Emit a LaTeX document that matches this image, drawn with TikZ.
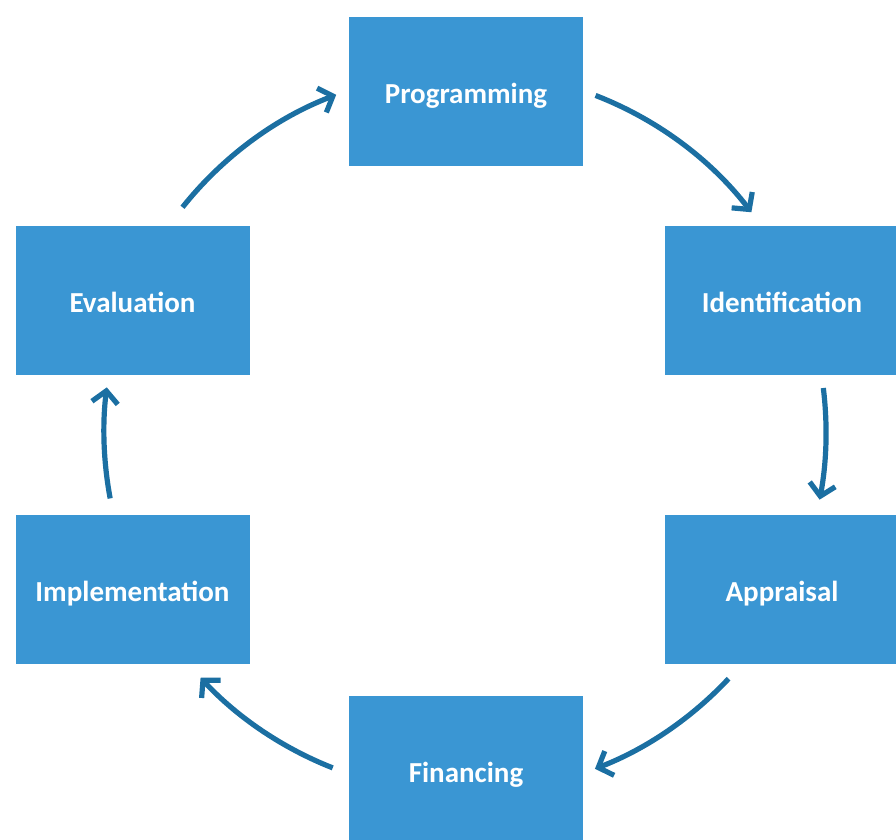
\documentclass[tikz,border=0pt]{standalone}
\usepackage{fontspec}
\setmainfont{Carlito}
\usetikzlibrary{arrows.meta}
\definecolor{boxblue}{HTML}{3A96D3}
\definecolor{arrowblue}{HTML}{1B6FA2}
\begin{document}
\begin{tikzpicture}[x=1pt,y=-1pt,
  stage/.style={rectangle, fill=boxblue, draw=none, minimum width=234pt, minimum height=149pt,
    inner sep=0pt, text height=23pt, text depth=0pt, text=white,
    font=\fontsize{29}{34}\selectfont\bfseries},
  flow/.style={draw=arrowblue, line width=5.2pt,
    -{Straight Barb[length=12pt,width=26pt,line join=miter]}}]
  \useasboundingbox (0,0) rectangle (896,839);
  % stages of the cycle
  \node[stage] (prog)  at (466,91.5)  {Programming};
  \node[stage] (ident) at (782,300.5) {Identification};
  \node[stage] (appr)  at (782,589.5) {Appraisal};
  \node[stage] (fin)   at (466,770.5) {Financing};
  \node[stage] (impl)  at (132.5,589.5) {Implementation};
  \node[stage] (eval)  at (132.5,300.5) {Evaluation};
  % arcs run round a common centre
  \coordinate (ctr) at (465,432);
  \def\rad{361}
  \draw[flow] (ctr) ++(-68.8:\rad) arc[start angle=-68.8, end angle=-37.5, radius=\rad];
  \draw[flow] (ctr) ++(-7.0:\rad)  arc[start angle=-7.0,  end angle=10.8,  radius=\rad];
  \draw[flow] (ctr) ++(43.1:\rad)  arc[start angle=43.1,  end angle=68.9,  radius=\rad];
  \draw[flow] (ctr) ++(111.5:\rad) arc[start angle=111.5, end angle=137.1, radius=\rad];
  \draw[flow] (ctr) ++(169.4:\rad) arc[start angle=169.4, end angle=187.1, radius=\rad];
  \draw[flow] (ctr) ++(218.5:\rad) arc[start angle=218.5, end angle=249.1, radius=\rad];
\end{tikzpicture}
\end{document}
